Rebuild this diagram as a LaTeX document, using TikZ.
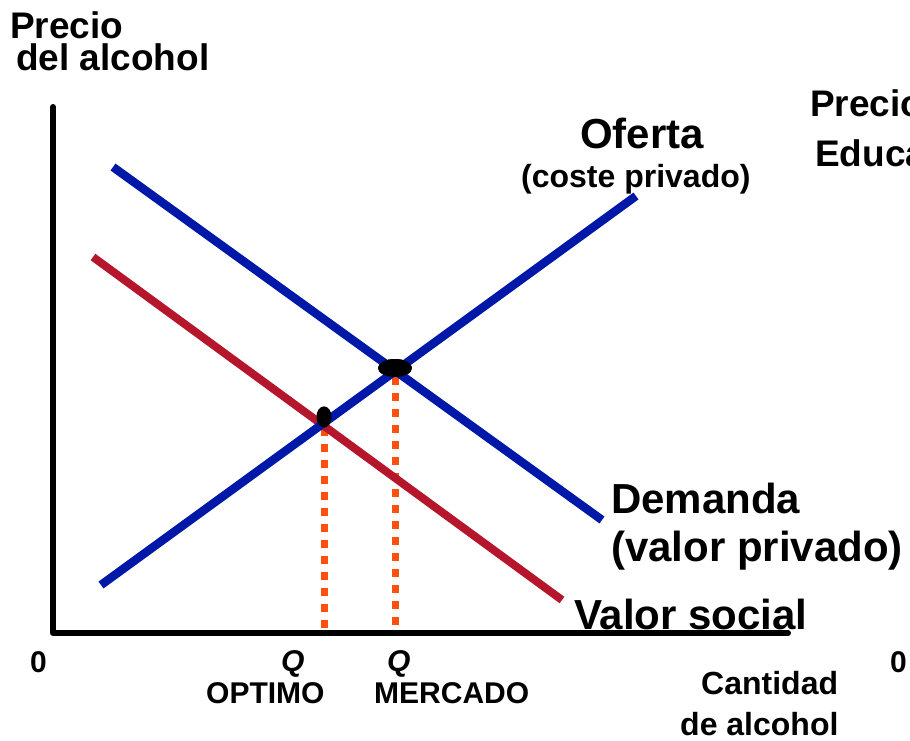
\documentclass[tikz,border=0pt]{standalone}
\usepackage{fontspec}
\setmainfont{Liberation Sans}
\usetikzlibrary{shapes.geometric}
\definecolor{privblue}{RGB}{0,24,168}
\definecolor{socialred}{RGB}{181,22,43}
\definecolor{guideorange}{RGB}{255,80,16}
\begin{document}
\begin{tikzpicture}[x=1pt, y=-1pt,
                    axisline/.style={line width=6pt, line cap=round, line join=round},
                    privado/.style={line width=8.5pt, draw=privblue},
                    social/.style={line width=8pt, draw=socialred},
                    guide/.style={line width=7pt, draw=guideorange, dash pattern=on 8pt off 8pt},
                    dot/.style={ellipse, fill=black, inner sep=0pt},
                    label/.style={anchor=base west, inner sep=0pt, font=\bfseries},
                    huge/.style={label, font=\fontsize{42}{46}\selectfont\bfseries},
                    big/.style={label, font=\fontsize{37}{40}\selectfont\bfseries},
                    small/.style={label, font=\fontsize{30}{34}\selectfont\bfseries}]
  \useasboundingbox (0,0) rectangle (910,741);
  % axes and curve end points
  \coordinate (ytop) at (53,107);
  \coordinate (origin) at (53,633);
  \coordinate (xend) at (788,633);
  \coordinate (demA) at (113,167);
  \coordinate (demB) at (602,520);
  \coordinate (ofeA) at (101,585);
  \coordinate (ofeB) at (636,196);
  \coordinate (socA) at (93,257);
  \coordinate (socB) at (562,600);
  % equilibrium points
  \node[dot, minimum width=34pt, minimum height=18pt](mercado) at (395,368) {};
  \node[dot, minimum width=15pt, minimum height=21pt](optimo) at (324,417) {};
  \draw[guide] (mercado.south) -- (mercado.south |- origin);
  \draw[guide] (optimo.south) -- (optimo.south |- origin);
  \draw[social] (socA) -- (socB);
  \draw[privado] (demA) -- (demB);
  \draw[privado] (ofeA) -- (ofeB);
  \fill (mercado.center) ellipse [x radius=17pt, y radius=9pt];
  \fill (optimo.center) ellipse [x radius=7.5pt, y radius=10.5pt];
  \draw[axisline] (ytop) -- (origin) -- (xend);
  % texts
  \node[big](precio) at (10,39) {Precio};
  \node[big](alcohol) at (16,71) {del alcohol};
  \node[huge](oferta) at (580,149) {Oferta};
  \node[label, font=\fontsize{32}{34}\selectfont\bfseries](coste) at (521,187) {(coste privado)};
  \node[big](precioedu) at (810,117) {Precio};
  \node[big](educa) at (815,166) {Educa};
  \node[huge](demanda) at (611,513) {Demanda};
  \node[huge](valorpriv) at (611,561) {(valor privado)};
  \node[huge](valorsoc) at (574,629) {Valor social};
  \node[small](cero) at (30,672) {0};
  \node[small](cerodos) at (890,672) {0};
  \node[label, font=\fontsize{30}{32}\selectfont\bfseries\itshape](qopt) at (281,671) {Q};
  \node[label, font=\fontsize{30}{32}\selectfont\bfseries\itshape](qmer) at (387,671) {Q};
  \node[small](optimotxt) at (206,703) {OPTIMO};
  \node[small](mercadotxt) at (374,703) {MERCADO};
  \node[label, font=\fontsize{32}{34}\selectfont\bfseries](cantidad) at (701,694) {Cantidad};
  \node[label, font=\fontsize{32}{34}\selectfont\bfseries](dealcohol) at (680,735) {de alcohol};
\end{tikzpicture}
\end{document}
